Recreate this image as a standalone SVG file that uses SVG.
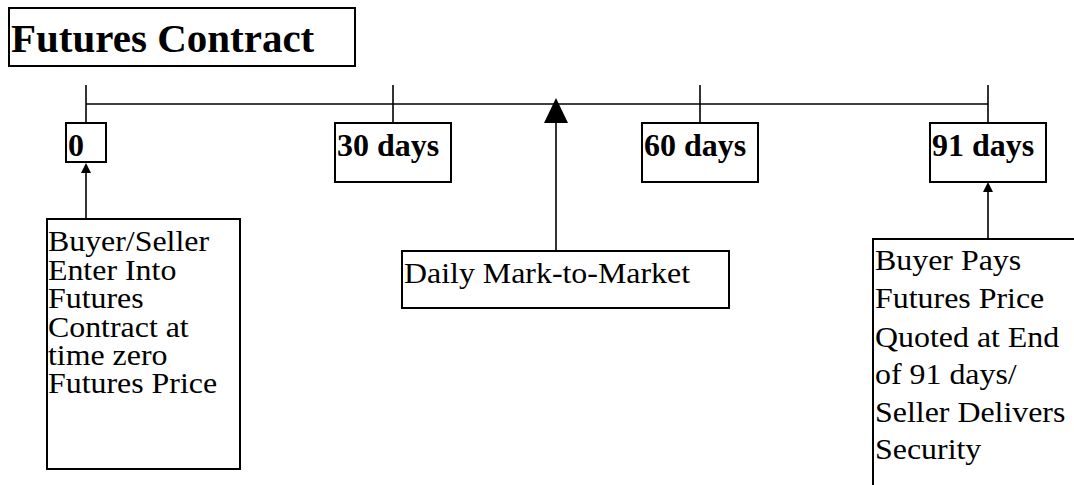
<svg xmlns="http://www.w3.org/2000/svg" width="1074" height="485" viewBox="0 0 1074 485">
<defs>
<style>
.box{fill:#fff;stroke:#000;stroke-width:2}
.ln{stroke:#000;stroke-width:1.6;fill:none}
.b{font-family:"Liberation Serif","Times New Roman",serif;font-weight:bold;font-size:32px;fill:#000}
.r{font-family:"Liberation Serif","Times New Roman",serif;font-size:29px;fill:#000}
</style>
</defs>
<g id="title">
<rect class="box" x="9" y="8" width="346" height="58"/>
<text class="b" x="11" y="52" style="font-size:41px">Futures Contract</text>
</g>
<g id="connectors">
<line class="ln" x1="86" y1="104" x2="988" y2="104"/>
<line class="ln" x1="86" y1="85" x2="86" y2="123"/>
<line class="ln" x1="393" y1="85" x2="393" y2="123"/>
<line class="ln" x1="700" y1="85" x2="700" y2="123"/>
<line class="ln" x1="988" y1="85" x2="988" y2="123"/>
<line class="ln" x1="86" y1="219" x2="86" y2="172"/>
<path d="M81,173 L86,163 L91,173 Z" fill="#000"/>
<line class="ln" x1="988" y1="239" x2="988" y2="191"/>
<path d="M983,192 L988,182 L993,192 Z" fill="#000"/>
<line class="ln" x1="556" y1="251" x2="556" y2="120"/>
<path d="M544,123 L556,98 L568,123 Z" fill="#000"/>
</g>
<g id="t0">
<rect class="box" x="66" y="123" width="40" height="39"/>
<text class="b" x="68" y="156">0</text>
</g>
<g id="t30">
<rect class="box" x="335" y="123" width="116" height="59"/>
<text class="b" x="337" y="156">30 days</text>
</g>
<g id="t60">
<rect class="box" x="642" y="123" width="116" height="59"/>
<text class="b" x="644" y="156">60 days</text>
</g>
<g id="t91">
<rect class="box" x="930" y="123" width="116" height="59"/>
<text class="b" x="932" y="156">91 days</text>
</g>
<g id="enter">
<rect class="box" x="47" y="219" width="193" height="250"/>
<g transform="scale(1.1,1)">
<text class="r" x="43.6" y="251">Buyer/Seller</text>
<text class="r" x="43.6" y="280">Enter Into</text>
<text class="r" x="43.6" y="308">Futures</text>
<text class="r" x="43.6" y="337">Contract at</text>
<text class="r" x="43.6" y="365">time zero</text>
<text class="r" x="43.6" y="393">Futures Price</text>
</g>
</g>
<g id="daily">
<rect class="box" x="402" y="251" width="327" height="57"/>
<g transform="scale(1.1,1)">
<text class="r" x="367.3" y="283">Daily Mark-to-Market</text>
</g>
</g>
<g id="settle">
<rect class="box" x="873" y="239" width="220" height="260"/>
<g transform="scale(1.1,1)">
<text class="r" x="795.5" y="270">Buyer Pays</text>
<text class="r" x="795.5" y="308">Futures Price</text>
<text class="r" x="795.5" y="347">Quoted at End</text>
<text class="r" x="795.5" y="384">of 91 days/</text>
<text class="r" x="795.5" y="422">Seller Delivers</text>
<text class="r" x="795.5" y="459">Security</text>
</g>
</g>
</svg>
